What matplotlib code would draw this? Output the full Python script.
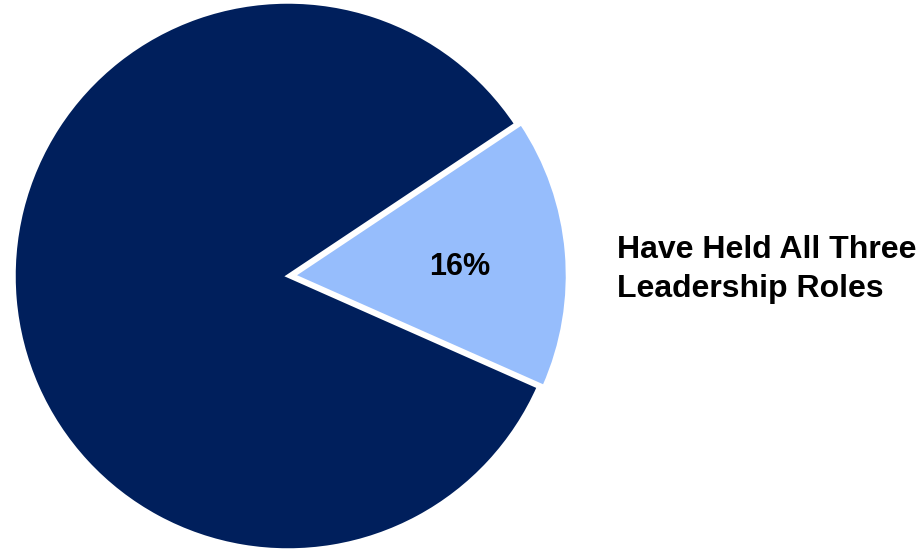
import matplotlib
matplotlib.use("Agg")
import matplotlib.pyplot as plt
import numpy as np

# Share of respondents who have held all three leadership roles
categories = ["Other", "Have Held All Three Leadership Roles"]
shares = [84, 16]
colors = ["#001F5C", "#96BDFC"]

plt.rcParams["font.family"] = ["Liberation Sans", "DejaVu Sans"]

W, H = 921, 549
fig = plt.figure(figsize=(W / 100, H / 100), dpi=100)

# square axes holding the unit-radius pie
cx, cy, r = 288, 276, 274
ax = fig.add_axes([(cx - r) / W, (H - cy - r) / H, 2 * r / W, 2 * r / H])

wedges, texts = ax.pie(
    shares,
    colors=colors,
    startangle=33.7,
    counterclock=True,
    explode=[0, 0.02],
    wedgeprops=dict(edgecolor="white", linewidth=2.5),
)
for w in wedges:
    w.set_clip_on(False)

# percentage label inside the highlighted slice only
w = wedges[1]
mid = np.deg2rad((w.theta1 + w.theta2) / 2)
cxw, cyw = w.center
ax.text(cxw + 0.61 * np.cos(mid), cyw + 0.61 * np.sin(mid) - 0.02, f"{shares[1]}%",
        ha="center", va="center", fontsize=22, fontweight="bold", color="black")

ax.set_xlim(-1, 1)
ax.set_ylim(-1, 1)
ax.set_aspect("equal")
ax.axis("off")

# category label to the right of the pie
line1, line2 = "Have Held All Three", "Leadership Roles"
fig.text(617 / W, 1 - 258 / H, line1, ha="left", va="baseline",
         fontsize=23, fontweight="bold", color="black")
fig.text(617 / W, 1 - 297 / H, line2, ha="left", va="baseline",
         fontsize=23, fontweight="bold", color="black")

fig.savefig("out.png", dpi=100, facecolor="white")
